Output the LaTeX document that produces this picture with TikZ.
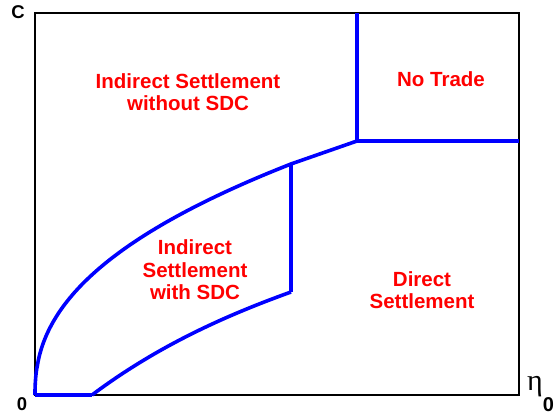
\documentclass[tikz,border=0pt]{standalone}
\usepackage{fontspec}
\setmainfont{Liberation Sans}
\newfontfamily\etafont{Liberation Serif}
\tikzset{
  region/.style={text=red,font=\bfseries\fontsize{20.5}{22.5}\selectfont,align=center},
  axislabel/.style={font=\bfseries\fontsize{18.5}{20}\selectfont},
  boundary/.style={blue,line width=3.6pt,line join=miter},
}
\begin{document}
\begin{tikzpicture}[x=1pt,y=1pt]
      \useasboundingbox (0,0) rectangle (560,416);
      % plot frame
      \coordinate (o) at (35,21);
      \draw[line width=1.2pt] (o) rectangle (519,403);
      % boundary points
      \coordinate (top) at (357,403);
      \coordinate (kink) at (357,275);
      \coordinate (east) at (519,275);
      \coordinate (ut) at (291,252);
      \coordinate (lt) at (291,124);
      \coordinate (foot) at (92,21);
      \begin{scope}[boundary]
        \draw (top) -- (kink) -- (east);
        \draw (ut) -- (lt);
        \draw plot[domain=0:231,samples=80,variable=\h]
          ({35+256*(\h/231)^2.3},{21+\h}) -- (kink);
        \draw (o) -- (foot);
        \draw (foot) .. controls (160,72) and (230,102) .. (lt);
      \end{scope}
      % labels
      \draw
        (188,324) node[region] (iwo){Indirect Settlement\\without SDC}
        (441,337) node[region] (nt){No Trade}
        (195,146) node[region] (iw){Indirect\\Settlement\\with SDC}
        (422,126) node[region] (ds){Direct\\Settlement};
      \node[axislabel] (cl) at (18,404) {C};
      \node[axislabel] (zl) at (22,12) {0};
      \node[anchor=base west,inner sep=0pt] (el) at (527,26)
        {\etafont\fontsize{30}{32}\selectfont η\raisebox{-21pt}{\normalfont\bfseries\fontsize{20}{20}\selectfont 0}};
    \end{tikzpicture}
\end{document}
